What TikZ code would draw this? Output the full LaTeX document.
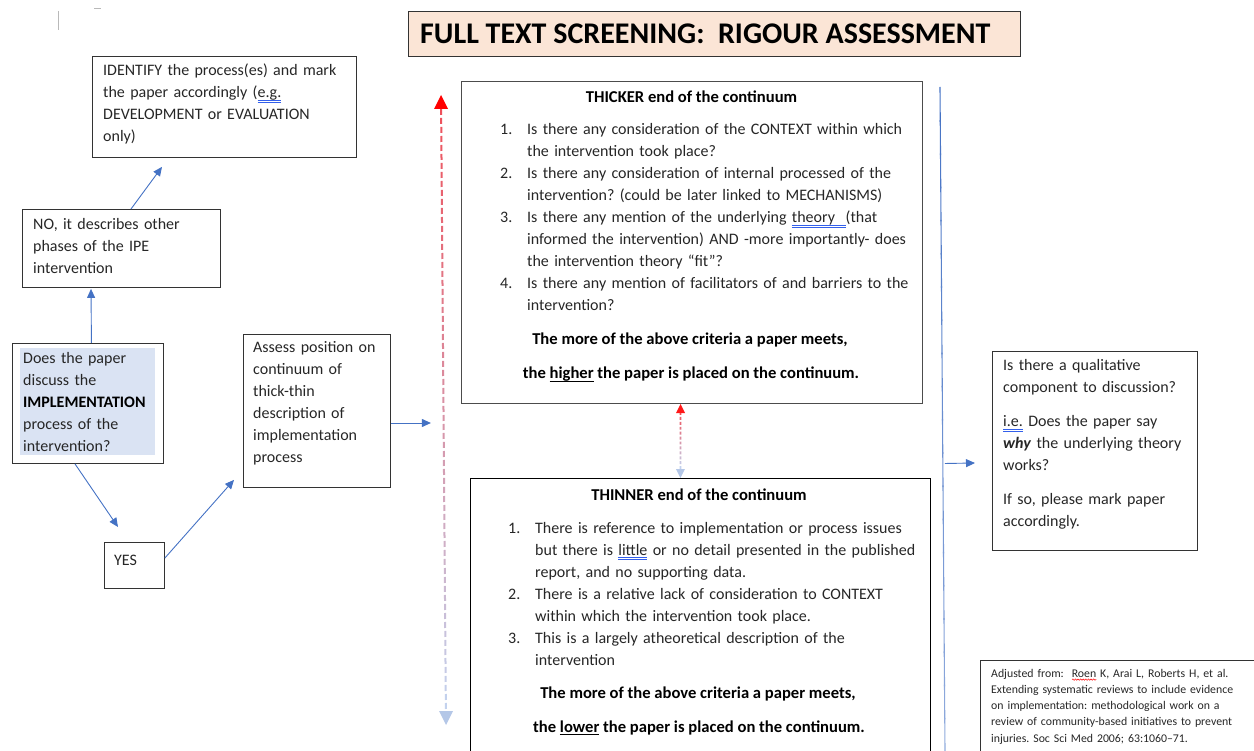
\documentclass[tikz,border=0pt]{standalone}
\usepackage{fontspec}
\setmainfont{Carlito}
\usetikzlibrary{arrows.meta,calc,decorations.pathmorphing}
\frenchspacing

\definecolor{textc}{RGB}{38,38,38}
\definecolor{ablue}{RGB}{68,114,196}
\definecolor{lineblue2}{RGB}{143,170,220}
\definecolor{peach}{RGB}{251,229,214}
\definecolor{hlblue}{RGB}{218,227,243}
\definecolor{ublue}{RGB}{50,95,235}
\definecolor{dred}{RGB}{238,80,90}
\definecolor{dblue}{RGB}{195,210,238}
\definecolor{hblue}{RGB}{180,199,231}

\newsavebox\wbox
% blue double underline (proofing mark)
\newcommand\dblu[1]{\leavevmode\sbox\wbox{#1}\rlap{\textcolor{ublue}{\rule[-2.6pt]{\wd\wbox}{0.6pt}}}\rlap{\textcolor{ublue}{\rule[-4.4pt]{\wd\wbox}{0.6pt}}}\usebox\wbox}
% plain single underline
\newcommand\ulblack[1]{\leavevmode\sbox\wbox{#1}\rlap{\rule[-3pt]{\wd\wbox}{1pt}}\usebox\wbox}
% red wavy underline (proofing mark)
\newcommand\wavy[1]{\leavevmode\sbox\wbox{#1}\rlap{\tikz[baseline=0pt]\draw[red, line width=0.5pt, decorate, decoration={snake, amplitude=0.7pt, segment length=2.6pt}] (0pt,-2.6pt) -- (\wd\wbox,-2.6pt);}\usebox\wbox}
\newcommand\bodyfont{\fontsize{16}{22}\selectfont}
\newcommand\boldfont{\fontsize{16.6}{22}\selectfont\bfseries}
\newcommand\smallfont{\fontsize{11.8}{16.25}\selectfont}
\newcommand\numitem[1]{\makebox[27pt][l]{#1}}
\newcommand\cont{\hspace*{27pt}}

\tikzset{
  box/.style={draw=black!80, line width=0.9pt, anchor=north west, inner sep=0pt},
  txt/.style={anchor=base west, inner sep=0pt, align=left, text width=#1, font=\bodyfont, text=textc},
  txt/.default=300pt,
  head/.style={anchor=base, inner sep=0pt, font=\boldfont, text=black},
  arr/.style={draw=ablue, line width=0.9pt, -{Triangle[length=9pt,width=8pt]}},
}

\begin{document}
\begin{tikzpicture}[x=1pt,y=-1pt]
\useasboundingbox (0,0) rectangle (1254,751);
\clip (0,0) rectangle (1254,751);

% stray marks at the top left
\draw[gray!55, line width=0.8pt] (58,11) -- (58,30);
\draw[gray!55, line width=0.8pt] (94,8) -- (101,8);

% title
\node[box, fill=peach, minimum width=612pt, minimum height=45pt] (title) at (408,11) {};
\node[anchor=base west, inner sep=0pt, font=\fontsize{30}{32}\selectfont\bfseries] (titletxt) at (420,44) {FULL TEXT SCREENING:\ \ RIGOUR ASSESSMENT};

% left flow boxes
\node[box, minimum width=264pt, minimum height=101pt] (ident) at (92,56) {};
\node[txt] (identtxt) at (103,76) {IDENTIFY the process(es) and mark\\the paper accordingly (\dblu{e.g.}\\DEVELOPMENT or EVALUATION\\only)};

\node[box, minimum width=198pt, minimum height=78pt] (nobox) at (22,209) {};
\node[txt] (notxt) at (33,230) {NO, it describes other\\phases of the IPE\\intervention};

\node[box, minimum width=151pt, minimum height=120pt] (does) at (12,343) {};
\fill[hlblue] (20,348) rectangle (155,455);
\node[txt] (doestxt) at (23,364) {Does the paper\\discuss the\\\textbf{\color{black}IMPLEMENTATION}\\process of the\\intervention?};

\node[box, minimum width=60pt, minimum height=46pt] (yes) at (104,542) {};
\node[txt=40pt] (yestxt) at (114,565) {YES};

\node[box, minimum width=147pt, minimum height=153pt] (assess) at (243,334) {};
\node[txt] (assesstxt) at (253,353) {Assess position on\\continuum of\\thick-thin\\description of\\implementation\\process};

% thicker end
\node[box, draw=black!70, line width=1.1pt, minimum width=461pt, minimum height=322pt] (thick) at (461,81) {};
\node[head] (thickhead) at (691.5,103) {THICKER end of the continuum};
\node[txt=420pt] (thicklist) at (500,135) {%
\numitem{1.}Is there any consideration of the CONTEXT within which\\
\cont the intervention took place?\\
\numitem{2.}Is there any consideration of internal processed of the\\
\cont intervention? (could be later linked to MECHANISMS)\\
\numitem{3.}Is there any mention of the underlying \dblu{theory\ \ }(that\\
\cont informed the intervention) AND -more importantly- does\\
\cont the intervention theory “fit”?\\
\numitem{4.}Is there any mention of facilitators of and barriers to the\\
\cont intervention?};
\node[head] (thickb1) at (690,345) {The more of the above criteria a paper meets,};
\node[head] (thickb2) at (691,379) {the \ulblack{higher} the paper is placed on the continuum.};

% thinner end
\node[box, draw=black, minimum width=460pt, minimum height=300pt] (thin) at (470,478) {};
\node[head] (thinhead) at (699,500) {THINNER end of the continuum};
\node[txt=420pt] (thinlist) at (508,533) {%
\numitem{1.}There is reference to implementation or process issues\\
\cont but there is \dblu{little} or no detail presented in the published\\
\cont report, and no supporting data.\\
\numitem{2.}There is a relative lack of consideration to CONTEXT\\
\cont within which the intervention took place.\\
\numitem{3.}This is a largely atheoretical description of the\\
\cont intervention};
\node[head] (thinb1) at (698,698) {The more of the above criteria a paper meets,};
\node[head] (thinb2) at (699,732) {the \ulblack{lower} the paper is placed on the continuum.};

% qualitative component
\node[box, minimum width=205pt, minimum height=199pt] (rbox) at (992,351) {};
\node[txt=190pt] (rtxt) at (1003,371) {Is there a qualitative\\component to discussion?\\[12pt]\dblu{i.e.} Does the paper say\\\textbf{\textit{why}} the underlying theory\\works?\\[12pt]If so, please mark paper\\accordingly.};

% reference
\node[box, minimum width=290pt, minimum height=110pt] (foot) at (980,660) {};
\node[anchor=base west, inner sep=0pt, align=left, text width=260pt, font=\smallfont, text=textc] (foottxt) at (991,677) {Adjusted from:\ \ \wavy{Roen} K, Arai L, Roberts H, et al.\\Extending systematic reviews to include evidence\\on implementation: methodological work on a\\review of community-based initiatives to prevent\\injuries. Soc Sci Med 2006; 63:1060–71.};

% flow connectors
\draw[arr] ([xshift=3.5pt]does.north) -- ($(nobox.south west)+(69,1)$);
\draw[arr] ($(nobox.north west)+(109,0)$) -- ($(ident.south west)+(70,9)$);
\draw[arr] ($(does.south west)+(63,0)$) -- ($(yes.north west)+(14,-15)$);
\draw[arr] ($(yes.north east)+(0,16)$) -- ($(assess.south west)+(-9,-8)$);
\coordinate (axisin) at ($(assess.north east)+(40,89)$);
\draw[arr] ($(assess.north east)+(0,89)$) -- (axisin);

% continuum axis: dashed, red at the thick end, pale blue at the thin end
\coordinate (dtop) at (441,95);
\coordinate (dbot) at (446,725);
\foreach \i in {0,...,66}{
  \pgfmathsetmacro\a{(14+9*\i)/630}
  \pgfmathsetmacro\b{(20+9*\i)/630}
  \pgfmathtruncatemacro\p{100-100*\i/66}
  \draw[line width=2pt, draw=dred!\p!dblue] ($(dtop)!\a!(dbot)$) -- ($(dtop)!\b!(dbot)$);
}
\fill[red] (dtop) -- ++(-7,14) -- ++(14,0) -- cycle;
\fill[hblue] (dbot) -- ++(-7,-14) -- ++(14,0) -- cycle;

% short dotted link between the two ends
\coordinate (mtop) at ([xshift=-11.5pt]thick.south);
\coordinate (mbot) at ([xshift=-20pt]thin.north);
\foreach \i in {0,...,11}{
  \pgfmathsetmacro\a{(8+5*\i)/75}
  \pgfmathsetmacro\b{(11+5*\i)/75}
  \pgfmathtruncatemacro\p{100-100*\i/11}
  \draw[line width=1.6pt, draw=dred!\p!dblue] ($(mtop)!\a!(mbot)$) -- ($(mtop)!\b!(mbot)$);
}
\fill[red!90] (mtop) -- ++(-4.5,9) -- ++(9,0) -- cycle;
\fill[hblue] (mbot) -- ++(-4.5,-9) -- ++(9,0) -- cycle;

% vertical divider on the right
\coordinate (vtop) at (940,87);
\coordinate (vbot) at (945,751);
\foreach \i in {0,...,19}{
  \pgfmathsetmacro\a{\i/20}
  \pgfmathsetmacro\b{(\i+1.05)/20}
  \pgfmathtruncatemacro\p{100-100*\i/19}
  \draw[line width=1.1pt, draw=ablue!\p!lineblue2] ($(vtop)!\a!(vbot)$) -- ($(vtop)!\b!(vbot)$);
}
\draw[arr] ($(vtop)!0.567!(vbot)+(2,0)$) -- ($(rbox.north west)+(-17,112)$);
\end{tikzpicture}
\end{document}
